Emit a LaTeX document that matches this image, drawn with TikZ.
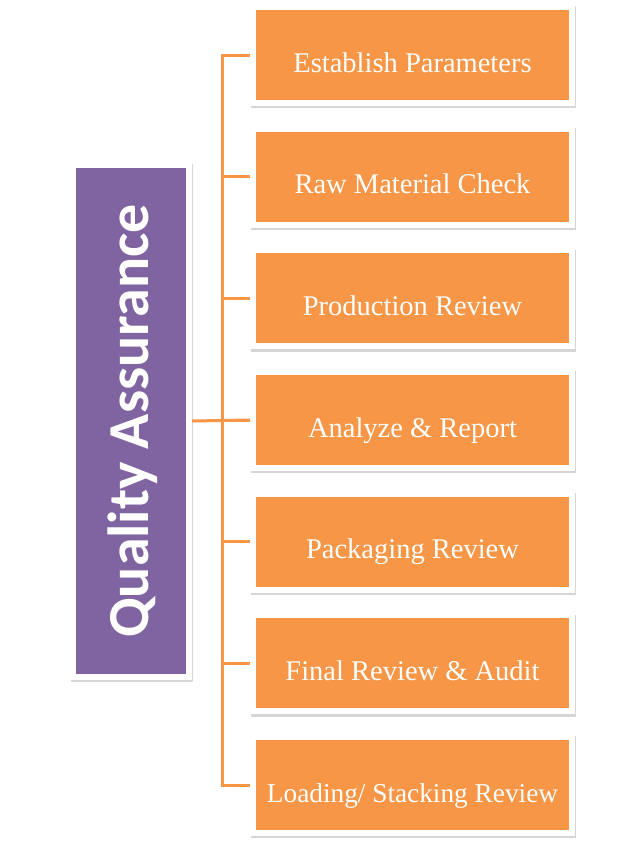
\documentclass[tikz,border=0pt]{standalone}
\usepackage{fontspec}
\setmainfont{Liberation Serif}
\newfontfamily\qafont{Carlito}
\newfontfamily\boxfont{Liberation Serif}
\definecolor{qaorange}{HTML}{F79646}
\definecolor{qapurple}{HTML}{8064A2}
\definecolor{qashadow}{gray}{0.84}
\newcommand{\boxtext}[1]{\raisebox{-17pt}[0pt][0pt]{#1}}
\begin{document}
\begin{tikzpicture}[x=1pt,y=-1pt,
  framed/.style={draw=white, line width=6pt, inner sep=0pt,
    preaction={draw=qashadow, fill=qashadow, line width=6pt,
      transform canvas={xshift=1.2pt,yshift=-2.2pt}}},
  stepbox/.style={framed, fill=qaorange, minimum width=319pt, minimum height=96pt,
    text=white, font=\boxfont\fontsize{28.5}{30}\selectfont},
  qabox/.style={framed, fill=qapurple, minimum width=116pt, minimum height=512pt},
  conn/.style={draw=qaorange, line width=3pt, line join=miter}]
\useasboundingbox (0,0) rectangle (644,857);
\fill[white] (0,0) rectangle (644,857);
\node[qabox] (q) at (131,421) {};
\node[text=white, font=\qafont\bfseries\fontsize{58}{62}\selectfont, rotate=90] (qt) at (133,421) {Quality Assurance};
\node[stepbox] (b1) at (412.5,55) {\boxtext{Establish Parameters}};
\node[stepbox] (b2) at (412.5,176.67) {\boxtext{Raw Material Check}};
\node[stepbox] (b3) at (412.5,298.33) {\boxtext{Production Review}};
\node[stepbox] (b4) at (412.5,420) {\boxtext{Analyze \& Report}};
\node[stepbox] (b5) at (412.5,541.67) {\boxtext{Packaging Review}};
\node[stepbox] (b6) at (412.5,663.33) {\boxtext{Final Review \& Audit}};
\node[stepbox, font=\boxfont\fontsize{27.3}{30}\selectfont] (b7) at (412.5,785) {\boxtext{Loading/ Stacking Review}};
\coordinate (trk) at (222,0);
\draw[conn] (b1.west) -- (b1.west -| trk) -- (b7.west -| trk) -- (b7.west);
\foreach \i in {2,...,6} {\draw[conn] (b\i.west -| trk) -- (b\i.west);}
\draw[conn] (q.east) -- (b4.west);
\end{tikzpicture}
\end{document}
